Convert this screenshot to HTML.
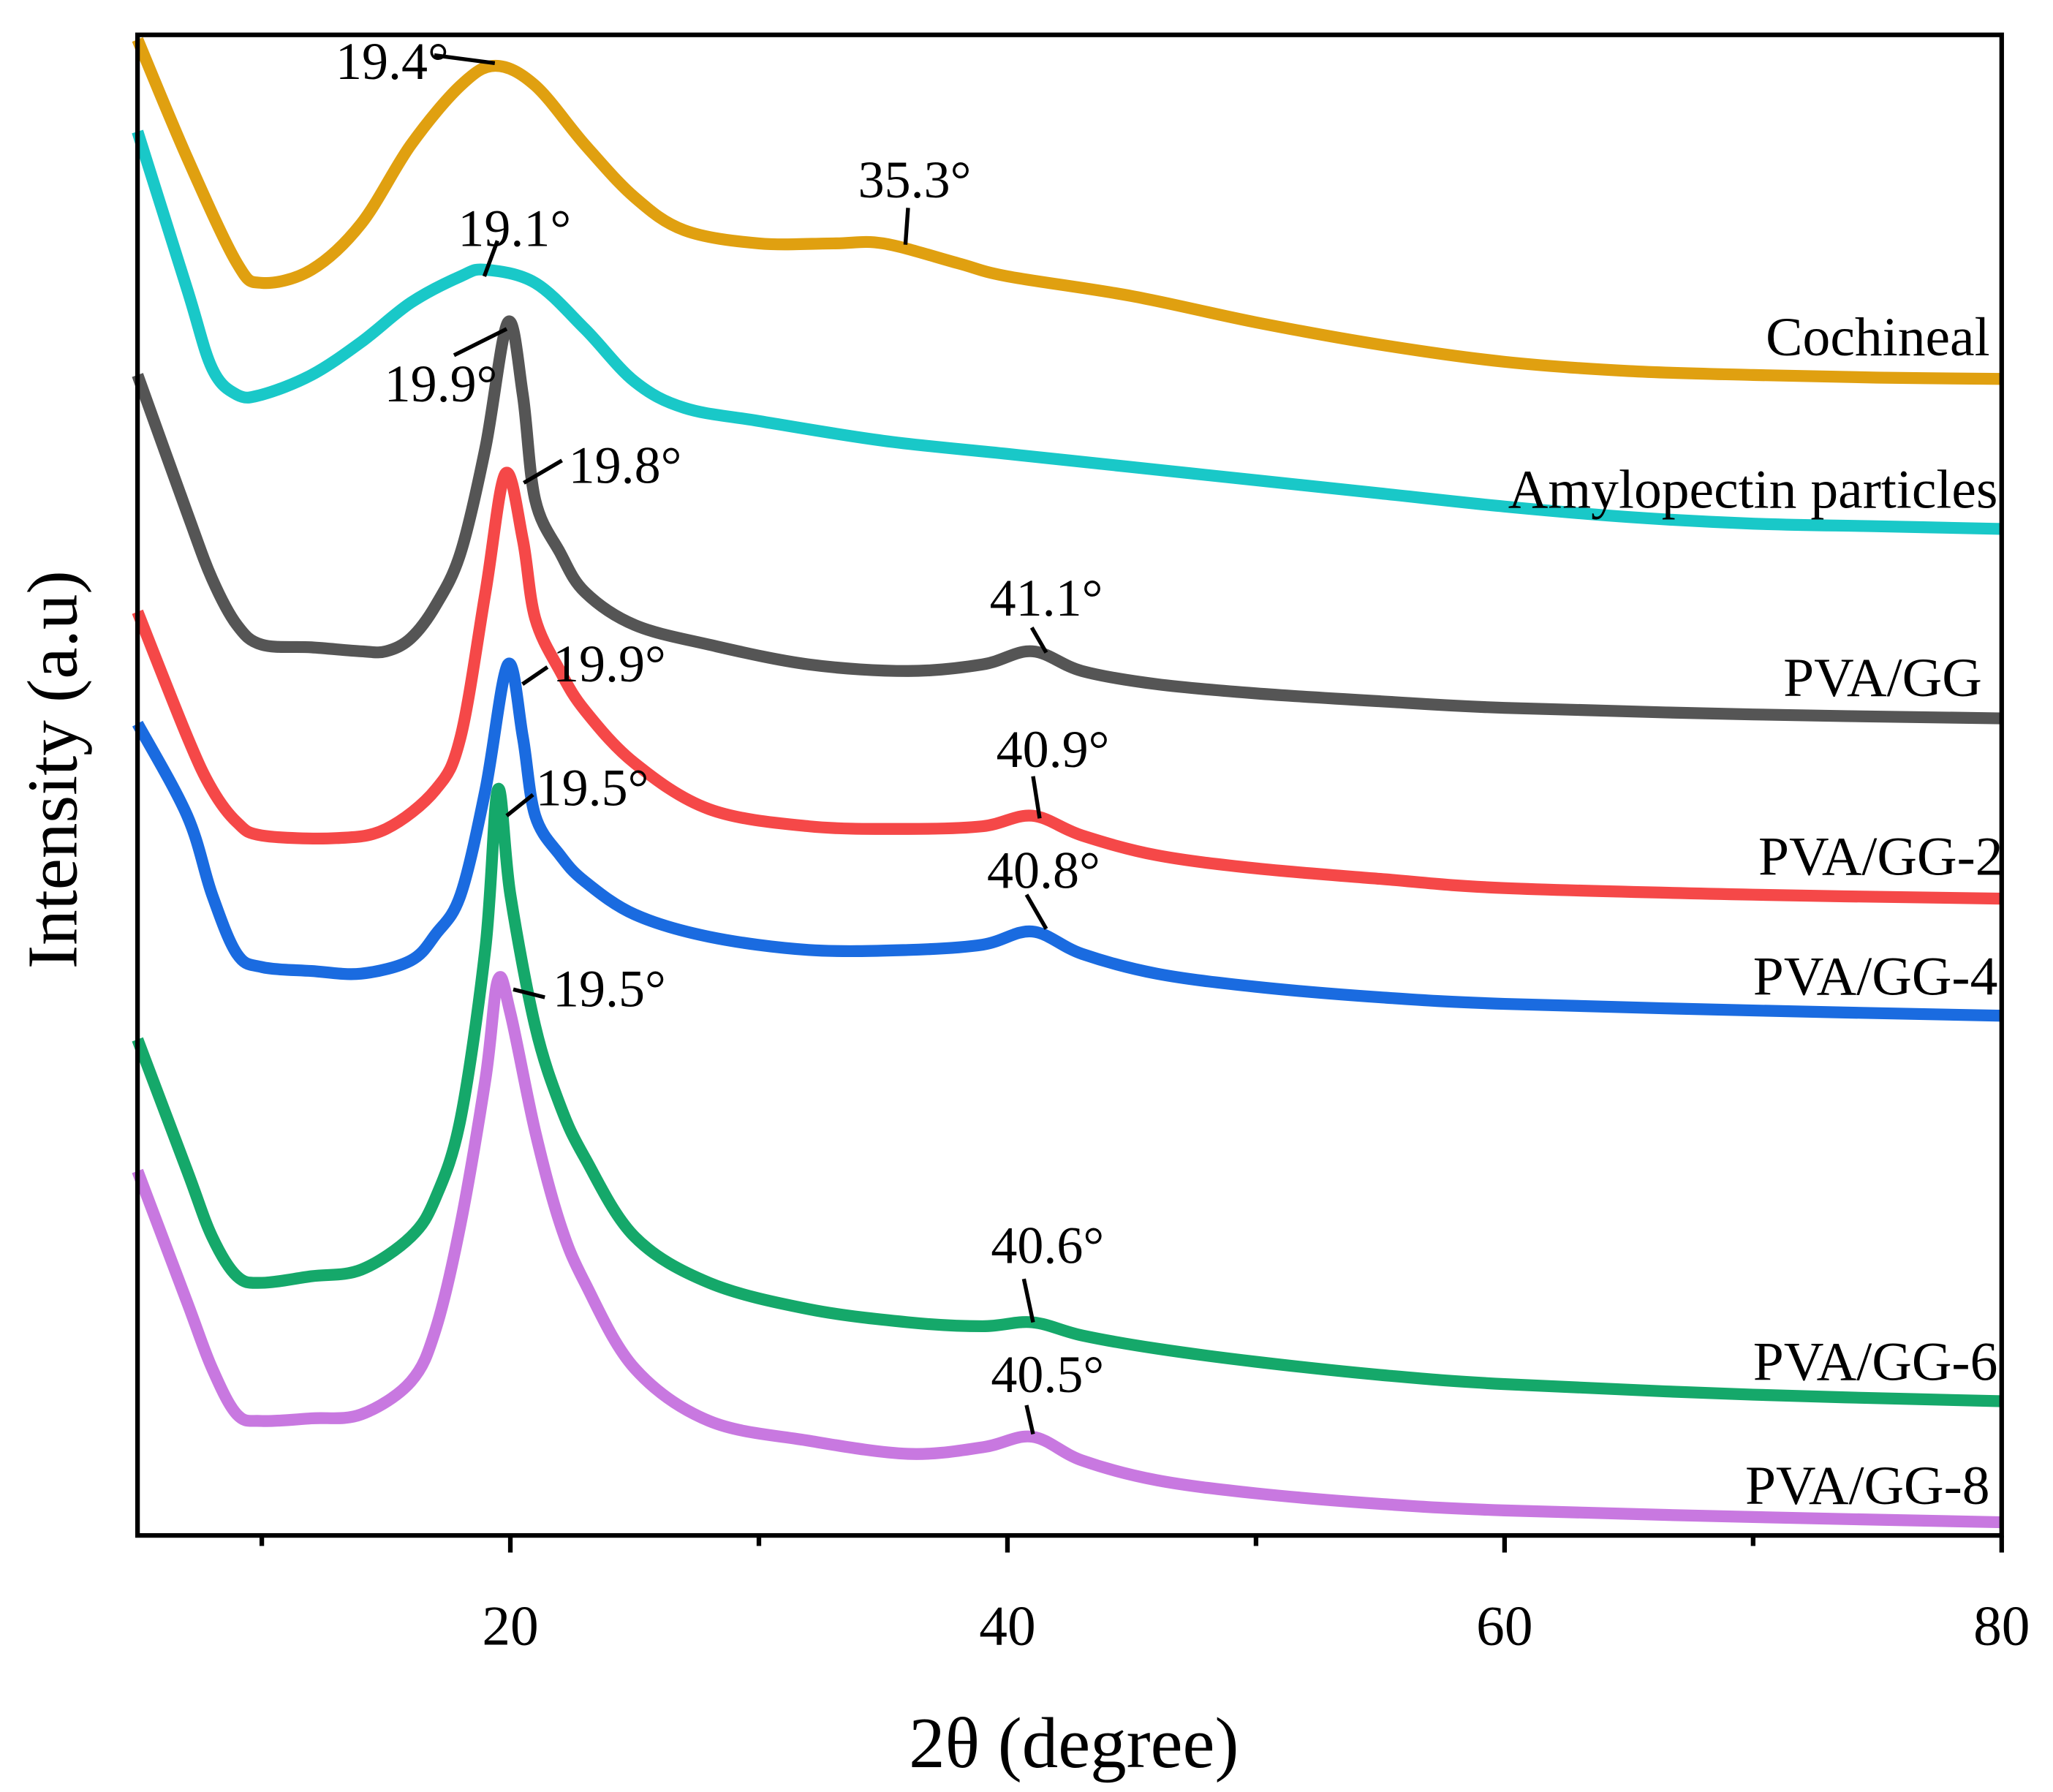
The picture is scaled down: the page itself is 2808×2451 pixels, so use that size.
<!DOCTYPE html>
<html><head><meta charset="utf-8"><style>
html,body{margin:0;padding:0;background:#fff}
svg{display:block}
text{font-family:"Liberation Serif",serif;fill:#000}
</style></head><body>
<svg id="chart" width="2808" height="2451" viewBox="0 0 1560 1362" preserveAspectRatio="none" xmlns="http://www.w3.org/2000/svg">
<g id="series"></g>
<rect x="104.5" y="26.5" width="1416.5" height="1140.5" fill="none" stroke="#000" stroke-width="3.5"/>
<g id="ticks"></g>
<text x="816" y="1343" font-size="55" text-anchor="middle">2θ (degree)</text>
<text transform="translate(58,585) rotate(-90)" font-size="54" text-anchor="middle">Intensity (a.u)</text>
<g font-size="42" text-anchor="end">
<text x="1512" y="270">Cochineal</text>
<text x="1518" y="386">Amylopectin particles</text>
<text x="1506" y="529">PVA/GG</text>
<text x="1522" y="665">PVA/GG-2</text>
<text x="1518" y="756">PVA/GG-4</text>
<text x="1518" y="1049">PVA/GG-6</text>
<text x="1512" y="1143">PVA/GG-8</text>
</g>
<g font-size="40">
<text x="255" y="60">19.4°</text><line x1="330" y1="42" x2="376" y2="48" stroke="#000" stroke-width="3"/>
<text x="652" y="150">35.3°</text><line x1="690" y1="158" x2="688" y2="186" stroke="#000" stroke-width="3"/>
<text x="348" y="187">19.1°</text><line x1="378" y1="183" x2="368" y2="210" stroke="#000" stroke-width="3"/>
<text x="292" y="305">19.9°</text><line x1="345" y1="270" x2="385" y2="250" stroke="#000" stroke-width="3"/>
<text x="432" y="367">19.8°</text><line x1="427" y1="350" x2="398" y2="367" stroke="#000" stroke-width="3"/>
<text x="752" y="468">41.1°</text><line x1="784" y1="477" x2="795" y2="496" stroke="#000" stroke-width="3"/>
<text x="420" y="518">19.9°</text><line x1="416" y1="507" x2="397" y2="520" stroke="#000" stroke-width="3"/>
<text x="757" y="583">40.9°</text><line x1="785" y1="590" x2="790" y2="622" stroke="#000" stroke-width="3"/>
<text x="407" y="612">19.5°</text><line x1="405" y1="604" x2="385" y2="620" stroke="#000" stroke-width="3"/>
<text x="750" y="675">40.8°</text><line x1="780" y1="680" x2="795" y2="706" stroke="#000" stroke-width="3"/>
<text x="420" y="765">19.5°</text><line x1="414" y1="758" x2="390" y2="752" stroke="#000" stroke-width="3"/>
<text x="753" y="960">40.6°</text><line x1="778" y1="972" x2="785" y2="1005" stroke="#000" stroke-width="3"/>
<text x="753" y="1058">40.5°</text><line x1="780" y1="1068" x2="785" y2="1090" stroke="#000" stroke-width="3"/>
</g>
</svg>
<script>
const xTicks = [20, 40, 60, 80];
const xMinor = [10, 30, 50, 70];
const xCoch = [5,7,9,10,12,14,16,18,19.4,21,23,25,27,30,33,35,38,40,45,50,55,60,65,70,75,80];
const yCoch = [1142,1052,972,957,967,1002,1062,1107,1122,1107,1062,1022,997,987,987,987,972,962,947,927,910,897,890,887,885,884];
const xAmy = [5,7,8,9,10,12,14,16,18,19,21,23,25,27,30,35,40,45,50,55,60,65,70,75,80];
const yAmy = [1072,952,892,872,872,887,912,942,962,967,957,922,882,862,852,837,827,817,807,797,787,779,774,772,770];
const xGG = [5,7,8,9,10,12,14,15,16,17,18,19,19.9,20.5,21,22,23,25,28,32,36,39,41,43,46,50,55,60,70,80];
const yGG = [887,782,732,697,682,680,677,677,687,712,752,832,927,872,792,752,722,697,682,667,662,667,677,662,652,645,639,634,629,626];
const xGG2 = [5,7,8,9,10,13,15,17,18,19,19.8,20.5,21,22,23,25,28,32,36,39,41,43,46,50,55,60,70,80];
const yGG2 = [707,612,572,547,537,535,542,572,612,722,812,762,702,662,632,592,557,544,542,544,552,537,522,512,504,497,492,489];
const xGG4 = [5,7,8,9,10,12,14,16,17,18,19,19.9,20.5,21,22,23,25,28,32,36,39,41,43,46,50,55,60,70,80];
const yGG4 = [622,552,492,447,437,434,432,442,462,492,572,667,612,552,522,502,477,460,450,450,454,464,447,432,422,414,409,404,400];
const xGG68 = [5,7,8,9,10,12,14,16,17,18,19,19.5,20,21,22,23,25,28,32,36,39,41,43,46,50,55,60,70,80];
const yGG6 = [382,282,232,202,197,202,207,232,262,322,452,572,492,392,332,292,232,197,177,167,164,167,157,147,137,127,120,112,107];
const yGG8 = [282,182,132,97,92,94,97,122,162,242,352,427,402,312,242,197,132,92,77,67,72,80,62,47,37,29,24,19,15];

const X0=104.5,X1=1521,Y0=1167,Y1=26.5;
const YMIN=5,YMAX=1145.5;
const sx = v => X0 + (v-5)/(80-5)*(X1-X0);
const sy = v => Y0 - (v-YMIN)/(YMAX-YMIN)*(Y0-Y1);
const NS="http://www.w3.org/2000/svg";
const sg=document.getElementById('series');
function draw(xs,ys,color,name){
  const p=xs.map((x,i)=>[sx(x),sy(ys[i])]);
  let d=`M${p[0][0]},${p[0][1]}`;
  for(let i=0;i<p.length-1;i++){
    const a=p[Math.max(0,i-1)],b=p[i],c=p[i+1],e=p[Math.min(p.length-1,i+2)];
    d+=` C${b[0]+(c[0]-a[0])/6},${b[1]+(c[1]-a[1])/6} ${c[0]-(e[0]-b[0])/6},${c[1]-(e[1]-b[1])/6} ${c[0]},${c[1]}`;
  }
  const el=document.createElementNS(NS,'path');
  el.setAttribute('d',d);el.setAttribute('fill','none');el.setAttribute('stroke',color);
  el.setAttribute('stroke-width','9');el.setAttribute('stroke-linejoin','round');
  
  
  sg.appendChild(el);
}
draw(xCoch,yCoch,'#e0a010','series-cochineal');
draw(xAmy,yAmy,'#19c8c8','series-amylopectin');
draw(xGG,yGG,'#555555','series-pva-gg');
draw(xGG2,yGG2,'#f54848','series-pva-gg-2');
draw(xGG4,yGG4,'#1a6be0','series-pva-gg-4');
draw(xGG68,yGG6,'#15a86a','series-pva-gg-6');
draw(xGG68,yGG8,'#c878e0','series-pva-gg-8');

const tg=document.getElementById('ticks');
xTicks.forEach(t=>{
  const l=document.createElementNS(NS,'line');
  l.setAttribute('x1',sx(t));l.setAttribute('x2',sx(t));l.setAttribute('y1',Y0);l.setAttribute('y2',Y0+13);
  l.setAttribute('stroke','#000');l.setAttribute('stroke-width','3.5');
  
  
  tg.appendChild(l);
  const tx=document.createElementNS(NS,'text');
  tx.setAttribute('x',sx(t));tx.setAttribute('y',1250);tx.setAttribute('font-size','43');tx.setAttribute('text-anchor','middle');
  tx.textContent=t;
  
  
  tg.appendChild(tx);
});
xMinor.forEach(t=>{
  const l=document.createElementNS(NS,'line');
  l.setAttribute('x1',sx(t));l.setAttribute('x2',sx(t));l.setAttribute('y1',Y0);l.setAttribute('y2',Y0+8);
  l.setAttribute('stroke','#000');l.setAttribute('stroke-width','3.5');
  
  
  tg.appendChild(l);
});
</script>
</body></html>
